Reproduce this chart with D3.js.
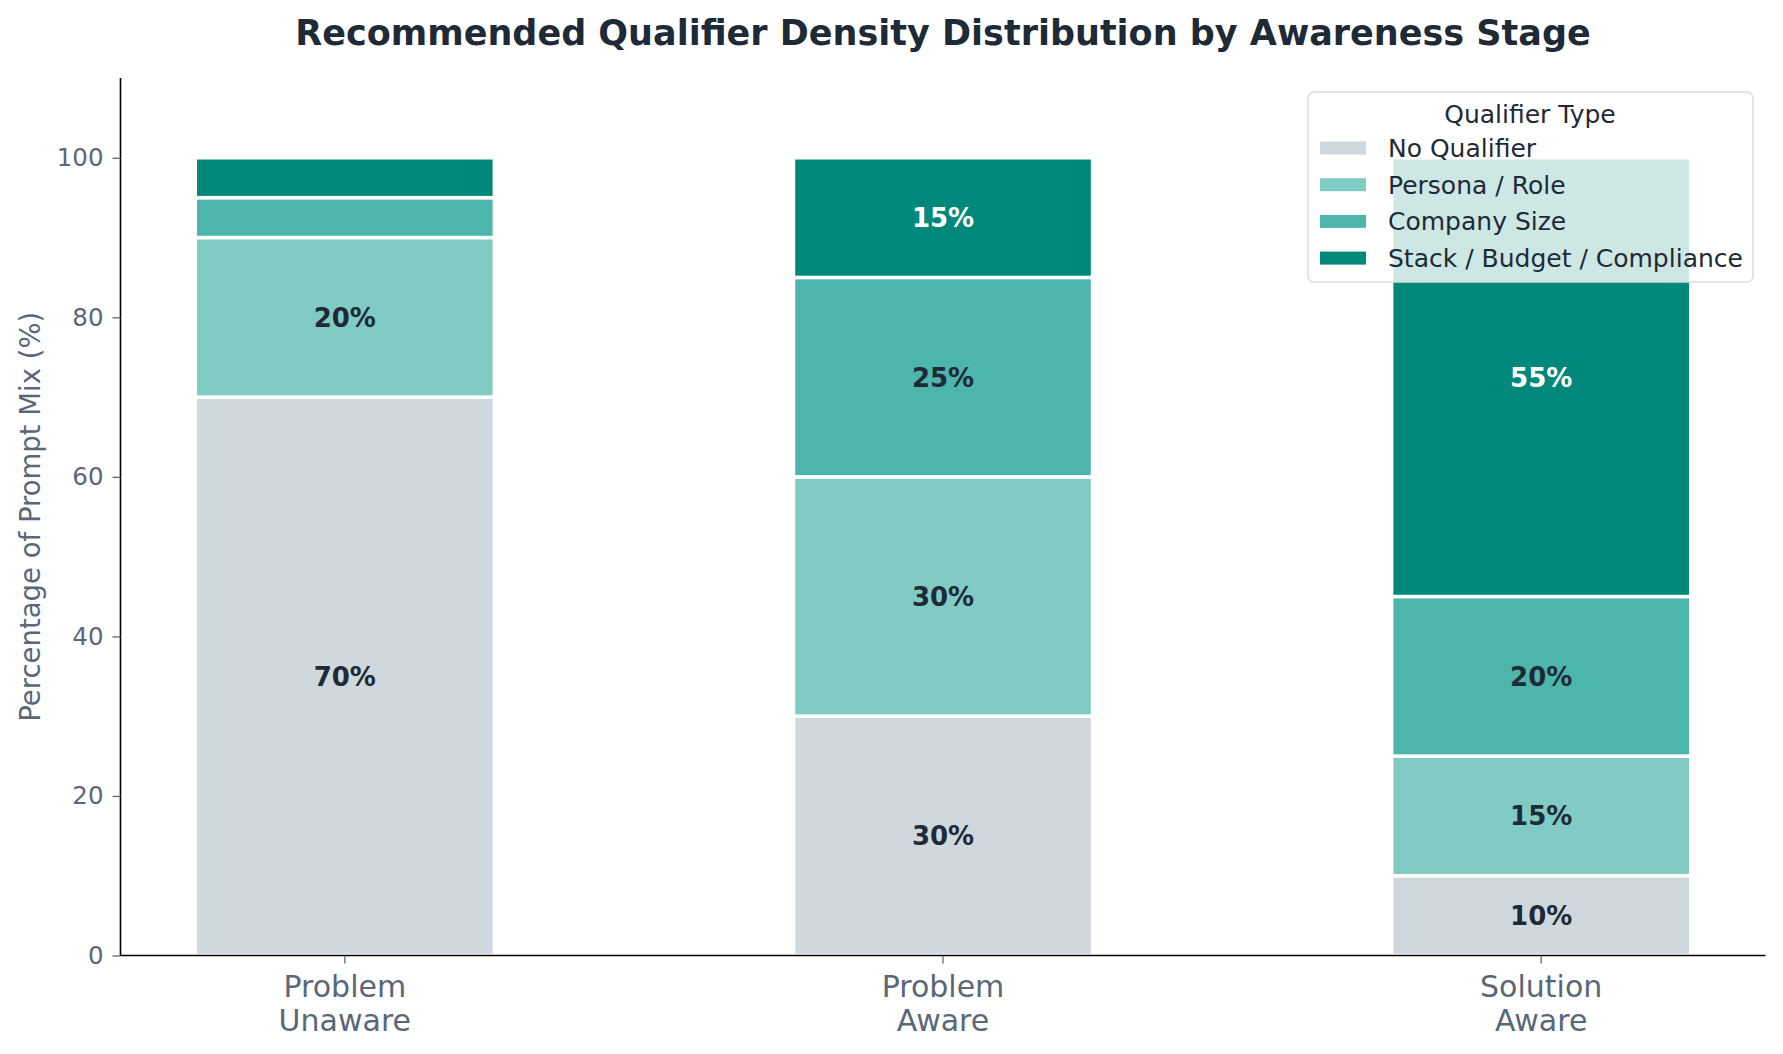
<!DOCTYPE html>
<html>
<head>
<meta charset="utf-8">
<script src="https://cdn.jsdelivr.net/npm/d3@7"></script>
<style>
  html, body { margin: 0; padding: 0; background: #fff; }
  svg { display: block; font-family: "DejaVu Sans", sans-serif; }
</style>
</head>
<body>
<svg width="1783" height="1054"></svg>
<script>
// data
const stages = ["Problem Unaware", "Problem Aware", "Solution Aware"];
const stageLines = [["Problem", "Unaware"], ["Problem", "Aware"], ["Solution", "Aware"]];
const qualifiers = ["No Qualifier", "Persona / Role", "Company Size", "Stack / Budget / Compliance"];
const noQualifier = [70, 30, 10];
const personaRole = [20, 30, 15];
const companySize = [5, 25, 20];
const stackBudget = [5, 15, 55];
const yTicks = [0, 20, 40, 60, 80, 100];

const colors = ["#cfd8dc", "#80cbc4", "#4db6ac", "#00897b"];
const labelColors = ["#1f2a37", "#1f2a37", "#1f2a37", "#ffffff"];

const svg = d3.select("svg"),
      margin = { top: 78, right: 17.5, bottom: 98.5, left: 120.5 },
      width = +svg.attr("width") - margin.left - margin.right,
      height = +svg.attr("height") - margin.top - margin.bottom;

const g = svg.append("g").attr("transform", `translate(${margin.left},${margin.top})`);

const rows = stages.map((s, i) => ({
  stage: s,
  [qualifiers[0]]: noQualifier[i],
  [qualifiers[1]]: personaRole[i],
  [qualifiers[2]]: companySize[i],
  [qualifiers[3]]: stackBudget[i]
}));

const x = d3.scaleBand().domain(stages).range([0, width]).paddingInner(0.5).paddingOuter(0.125);
const y = d3.scaleLinear().domain([0, 110]).range([height, 0]);
const color = d3.scaleOrdinal().domain(qualifiers).range(colors);

const stack = d3.stack().keys(qualifiers)(rows);

// bars
const series = g.selectAll(".serie")
  .data(stack)
  .enter()
  .append("g")
  .attr("class", "serie")
  .attr("fill", d => color(d.key));

series.selectAll("rect")
  .data(d => d)
  .enter()
  .append("rect")
  .attr("x", d => x(d.data.stage))
  .attr("y", d => y(d[1]))
  .attr("width", x.bandwidth())
  .attr("height", d => y(d[0]) - y(d[1]))
  .attr("stroke", "#fff")
  .attr("stroke-width", 3.5);

// value labels (only segments of 10% or more)
stack.forEach((s, si) => {
  g.selectAll(".lbl" + si)
    .data(s.filter(d => d[1] - d[0] >= 10))
    .enter()
    .append("text")
    .attr("x", d => x(d.data.stage) + x.bandwidth() / 2)
    .attr("y", d => y((d[0] + d[1]) / 2))
    .attr("dy", "0.36em")
    .attr("text-anchor", "middle")
    .style("font-size", "26px")
    .style("font-weight", "bold")
    .attr("fill", labelColors[si])
    .text(d => `${d[1] - d[0]}%`);
});

// y axis
const yAxis = g.append("g")
  .call(d3.axisLeft(y).tickValues(yTicks).tickSize(8).tickPadding(9));
yAxis.select(".domain").attr("stroke", "#000").attr("stroke-width", 1.6)
  .attr("d", `M0,${height}V0`);
yAxis.selectAll(".tick line").attr("stroke", "#5b6777").attr("stroke-width", 1.3);
yAxis.selectAll(".tick text")
  .attr("fill", "#5b6777")
  .style("font-size", "24.5px")
  .style("font-family", "DejaVu Sans");

// x axis
const xAxis = g.append("g")
  .attr("transform", `translate(0,${height})`)
  .call(d3.axisBottom(x).tickSize(8).tickFormat(""));
xAxis.select(".domain").attr("stroke", "#000").attr("stroke-width", 1.6)
  .attr("d", `M0,0H${width}`);
xAxis.selectAll(".tick line").attr("stroke", "#5b6777").attr("stroke-width", 1.3);
xAxis.selectAll(".tick").each(function(d, i) {
  const t = d3.select(this).append("text")
    .attr("fill", "#5b6777")
    .attr("text-anchor", "middle")
    .style("font-size", "30px")
    .style("font-family", "DejaVu Sans");
  stageLines[i].forEach((line, li) => {
    t.append("tspan").attr("x", 0).attr("y", 41 + li * 34).text(line);
  });
});

// y axis label
svg.append("text")
  .attr("transform", `translate(40,${margin.top + height / 2}) rotate(-90)`)
  .attr("text-anchor", "middle")
  .attr("fill", "#5b6777")
  .style("font-size", "27.5px")
  .text("Percentage of Prompt Mix (%)");

// title
svg.append("text")
  .attr("x", margin.left + width / 2)
  .attr("y", 45)
  .attr("text-anchor", "middle")
  .attr("fill", "#1f2a37")
  .style("font-size", "35px")
  .style("font-weight", "bold")
  .text("Recommended Qualifier Density Distribution by Awareness Stage");

// legend
const legend = svg.append("g")
  .attr("class", "legend")
  .attr("transform", "translate(1308,92)");

legend.append("rect")
  .attr("width", 445)
  .attr("height", 190)
  .attr("rx", 6)
  .attr("fill", "#fff")
  .attr("fill-opacity", 0.8)
  .attr("stroke", "#dcdcdc")
  .attr("stroke-width", 1.5);

legend.append("text")
  .attr("x", 222)
  .attr("y", 22)
  .attr("dy", "0.36em")
  .attr("text-anchor", "middle")
  .attr("fill", "#1f2a37")
  .style("font-size", "25px")
  .text("Qualifier Type");

legend.selectAll(".legend-item")
  .data(qualifiers)
  .enter()
  .append("g")
  .attr("class", "legend-item")
  .attr("transform", (d, i) => `translate(0, ${56 + i * 36.7})`)
  .each(function(d) {
    d3.select(this)
      .append("rect")
      .attr("x", 12)
      .attr("y", -6.5)
      .attr("width", 46)
      .attr("height", 13)
      .attr("fill", color(d));
    d3.select(this)
      .append("text")
      .attr("x", 80)
      .attr("y", 0)
      .attr("dy", "0.36em")
      .attr("fill", "#1f2a37")
      .style("font-size", "25px")
      .text(d);
  });
</script>
</body>
</html>
